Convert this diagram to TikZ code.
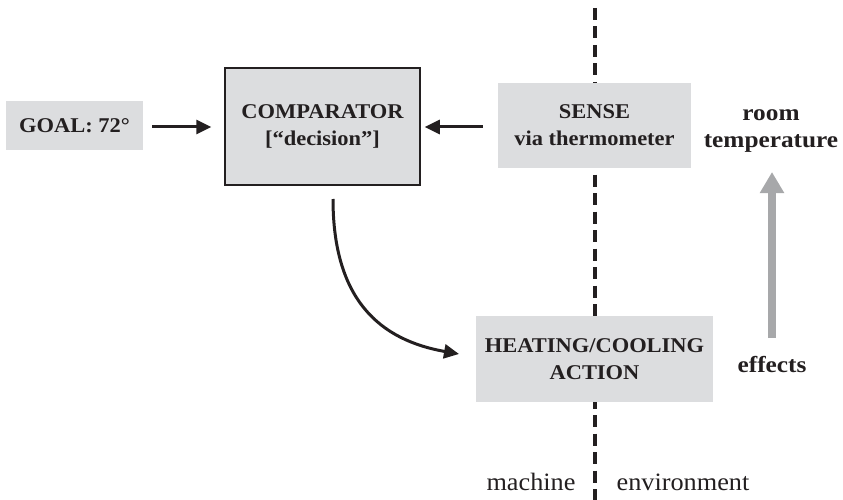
\documentclass[tikz,border=0pt]{standalone}
\usepackage{fontspec}
\setmainfont{Liberation Serif}
\newfontfamily\capsfont{Liberation Serif}[FakeStretch=1.07]
\newfontfamily\wordfont{Liberation Serif}[FakeStretch=1.1]
\newfontfamily\sidefont{Liberation Serif}[FakeStretch=1.05]
\usetikzlibrary{arrows.meta}
\definecolor{boxgray}{HTML}{DCDDDF}
\definecolor{arrowgray}{HTML}{A7A8AA}
\definecolor{ink}{HTML}{231F20}
\tikzset{
  block/.style={fill=boxgray, inner sep=0pt, align=center,
    font=\capsfont\bfseries\fontsize{21}{27}\selectfont, text=ink},
  label/.style={inner sep=0pt, align=center, text=ink},
  boldlabel/.style={label, font=\wordfont\bfseries\fontsize{23}{27}\selectfont},
  plainlabel/.style={label, font=\sidefont\fontsize{25}{27}\selectfont},
  flow/.style={draw=ink, line width=3pt,
    -{Triangle[length=15pt,width=14pt]}},
  effect/.style={draw=arrowgray, line width=8pt,
    -{Triangle[length=21pt,width=23pt]}},
  border/.style={draw=ink, line width=3.5pt, dash pattern=on 12pt off 6.5pt}
}
\begin{document}
\begin{tikzpicture}[x=1pt,y=-1pt]
  \useasboundingbox (0,0) rectangle (843,500);

  % machine / environment border
  \coordinate (btop) at (595,8);
  \coordinate (bbot) at (595,500);
  \draw[border] (btop) -- (bbot);

  % blocks
  \node[block, minimum width=137pt, minimum height=49pt] (goal) at (74.5,125.5) {GOAL: 72°};
  \node[block, draw=ink, line width=1.5pt, minimum width=195pt, minimum height=117pt] (comp) at (322.5,126.5)
    {COMPARATOR\\{[}“decision”{]}};
  \node[block, minimum width=193pt, minimum height=85pt] (sense) at (594.5,125.5)
    {SENSE\\via thermometer};
  \node[block, minimum width=237pt, minimum height=86pt] (heat) at (594.5,359)
    {HEATING/COOLING\\ACTION};

  % environment labels
  \node[boldlabel] (room) at (771,131) {room\\temperature};
  \node[boldlabel] (effects) at (772,365) {effects};
  \node[plainlabel] (machine) at (531,482) {machine};
  \node[plainlabel] (env) at (683,482) {environment};

  % connectors
  \draw[flow, shorten <=9pt, shorten >=13pt] ([yshift=-1.5pt]goal.east) -- ([yshift=-0.5pt]comp.west);
  \draw[flow, shorten <=15pt, shorten >=4pt] ([yshift=-1.5pt]sense.west) -- ([yshift=-0.5pt]comp.east);
  \coordinate (cstart) at (333,199);
  \coordinate (cend) at (459,354);
  \draw[flow] (cstart) .. controls (333,300) and (380,340) .. (cend);
  \coordinate (gbase) at (772,338);
  \coordinate (gtip) at (772,172);
  \draw[effect] (gbase) -- (gtip);
\end{tikzpicture}
\end{document}
